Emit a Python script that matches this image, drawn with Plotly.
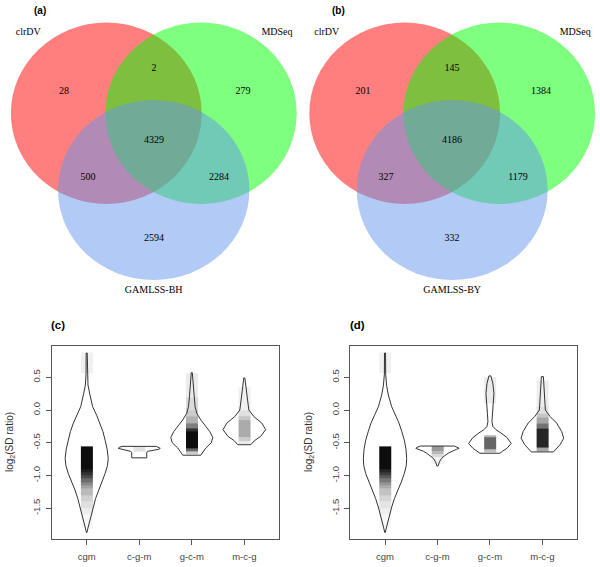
import plotly.graph_objects as go

# ---------------- DATA ----------------
venn_sets = ["clrDV", "MDSeq"]
venn_a_counts = [28, 2, 279, 4329, 500, 2284, 2594]   # clr only, clr&MD, MD only, all, clr&GAM, MD&GAM, GAM only
venn_a_third = "GAMLSS-BH"
venn_b_counts = [201, 145, 1384, 4186, 327, 1179, 332]
venn_b_third = "GAMLSS-BY"

categories = ["cgm", "c-g-m", "g-c-m", "m-c-g"]
y_ticks = [-1.5, -1.0, -0.5, 0.0, 0.5]
y_ticktext = ["-1.5", "-1.0", "-0.5", "0.0", "0.5"]

# violin outlines (y value, half width in x-axis units) for panel (c)
c_cgm_y = [0.87, 0.55, 0.38, 0.23, 0.05, -0.08, -0.20, -0.33, -0.46, -0.60, -0.74, -0.85, -0.97, -1.10, -1.22, -1.35, -1.48, -1.60, -1.70, -1.80, -1.87]
c_cgm_w = [0.01, 0.012, 0.025, 0.063, 0.114, 0.19, 0.253, 0.31, 0.35, 0.39, 0.41, 0.395, 0.35, 0.29, 0.223, 0.17, 0.128, 0.085, 0.055, 0.025, 0.005]
c_cgm2_y = [-0.555, -0.57, -0.585, -0.60, -0.615, -0.63, -0.645, -0.67, -0.70, -0.73]
c_cgm2_w = [0.324, 0.381, 0.40, 0.371, 0.267, 0.171, 0.143, 0.143, 0.143, 0.143]
c_gcm_y = [0.57, 0.40, 0.20, 0.05, -0.05, -0.15, -0.25, -0.33, -0.42, -0.50, -0.58, -0.64, -0.69]
c_gcm_w = [0.01, 0.029, 0.044, 0.063, 0.095, 0.171, 0.267, 0.343, 0.40, 0.371, 0.267, 0.21, 0.171]
c_mcg_y = [0.49, 0.30, 0.15, 0.0, -0.10, -0.20, -0.30, -0.40, -0.47, -0.53]
c_mcg_w = [0.01, 0.038, 0.057, 0.086, 0.181, 0.333, 0.406, 0.314, 0.19, 0.124]

# violin outlines for panel (d)
d_cgm_y = [0.87, 0.55, 0.38, 0.23, 0.05, -0.08, -0.20, -0.33, -0.46, -0.60, -0.74, -0.85, -0.97, -1.10, -1.22, -1.35, -1.48, -1.60, -1.70, -1.80, -1.87]
d_cgm_w = [0.01, 0.012, 0.03, 0.063, 0.127, 0.20, 0.267, 0.32, 0.368, 0.40, 0.413, 0.405, 0.368, 0.31, 0.242, 0.18, 0.128, 0.085, 0.055, 0.025, 0.005]
d_cgm2_y = [-0.55, -0.57, -0.585, -0.60, -0.63, -0.66, -0.70, -0.74, -0.79, -0.855]
d_cgm2_w = [0.324, 0.39, 0.413, 0.362, 0.267, 0.204, 0.133, 0.076, 0.038, 0.01]
d_gcm_y = [0.52, 0.40, 0.25, 0.10, -0.05, -0.18, -0.25, -0.30, -0.35, -0.42, -0.51, -0.585, -0.63, -0.66]
d_gcm_w = [0.019, 0.057, 0.076, 0.067, 0.048, 0.038, 0.057, 0.114, 0.21, 0.324, 0.406, 0.324, 0.238, 0.19]
d_mcg_y = [0.51, 0.30, 0.15, 0.0, -0.10, -0.20, -0.33, -0.43, -0.53, -0.61, -0.64]
d_mcg_w = [0.019, 0.038, 0.048, 0.057, 0.147, 0.272, 0.368, 0.406, 0.337, 0.242, 0.21]

# jittered-point cloud density (bin edges along y, darkness 0..1)
c_cgm_edges = [0.88, 0.56, -0.55, -0.9, -0.95, -1.0, -1.05, -1.1, -1.15, -1.2, -1.3, -1.4, -1.5, -1.6, -1.8]
c_cgm_dens = [0.06, 0.0, 0.95, 0.88, 0.8, 0.7, 0.58, 0.47, 0.37, 0.27, 0.18, 0.12, 0.07, 0.035]
c_cgm2_edges = [-0.56, -0.63]
c_cgm2_dens = [0.12]
c_gcm_edges = [0.56, 0.2, 0.0, -0.1, -0.2, -0.28, -0.33, -0.58, -0.63, -0.67]
c_gcm_dens = [0.08, 0.14, 0.2, 0.3, 0.5, 0.8, 0.95, 0.6, 0.2]
c_mcg_edges = [0.35, 0.0, -0.1, -0.15, -0.42, -0.47, -0.52]
c_mcg_dens = [0.06, 0.12, 0.22, 0.33, 0.2, 0.08]

d_cgm_edges = [0.88, 0.56, -0.55, -0.9, -0.95, -1.0, -1.05, -1.1, -1.15, -1.2, -1.3, -1.4, -1.5, -1.6, -1.8]
d_cgm_dens = [0.06, 0.0, 0.95, 0.86, 0.76, 0.65, 0.53, 0.42, 0.33, 0.24, 0.16, 0.1, 0.06, 0.03]
d_cgm2_edges = [-0.55, -0.62, -0.67, -0.72, -0.82]
d_cgm2_dens = [0.4, 0.28, 0.15, 0.05]
d_gcm_edges = [0.5, 0.1, -0.38, -0.42, -0.6, -0.64]
d_gcm_dens = [0.08, 0.0, 0.3, 0.6, 0.25]
d_mcg_edges = [0.45, 0.05, -0.05, -0.12, -0.2, -0.28, -0.58, -0.63]
d_mcg_dens = [0.07, 0.12, 0.22, 0.35, 0.55, 0.85, 0.35]

# ---------------- LAYOUT CONSTANTS ----------------
W, H = 600, 567
TOP_H = 300
# Venn circle geometry (pixel space of top half): (cx, cy, rx, ry)
venn_circles_a = [(106.3, 113.3, 95.4, 90.7), (201.0, 113.3, 95.7, 90.7), (153.7, 190.0, 95.7, 90.0)]
venn_circles_b = [(404.7, 113.3, 95.4, 90.7), (499.2, 113.3, 95.8, 90.7), (452.2, 190.0, 95.5, 90.0)]
venn_colors = ["rgb(255,0,0)", "rgb(0,255,0)", "rgb(100,149,237)"]
# region label positions (pixel space)
region_pos_a = [(64, 91), (154, 68), (243, 91), (154, 140), (88, 177), (219, 177), (154, 238)]
region_pos_b = [(363, 91), (452, 68), (541, 91), (452, 140), (386, 177), (518, 177), (452, 238)]

fig = go.Figure()

serif = "Liberation Serif, Times New Roman, serif"
sans = "Liberation Sans, Arial, sans-serif"

shapes = []
for circles in (venn_circles_a, venn_circles_b):
    for (cx, cy, rx, ry), col in zip(circles, venn_colors):
        shapes.append(dict(type="circle", xref="x", yref="y", x0=cx - rx, x1=cx + rx,
                           y0=cy - ry, y1=cy + ry, fillcolor=col, opacity=0.5,
                           line=dict(width=0), layer="below"))

# Venn texts
for counts, pos, third, circles in ((venn_a_counts, region_pos_a, venn_a_third, venn_circles_a),
                                    (venn_b_counts, region_pos_b, venn_b_third, venn_circles_b)):
    fig.add_trace(go.Scatter(x=[p[0] for p in pos], y=[p[1] for p in pos], mode="text",
                             text=[str(c) for c in counts], textfont=dict(family=serif, size=10, color="black"),
                             xaxis="x", yaxis="y", showlegend=False, hoverinfo="skip"))
    lx = [circles[0][0] - 78, circles[1][0] + 76, circles[2][0]]
    ly = [32, 32, 290.7]
    fig.add_trace(go.Scatter(x=lx, y=ly, mode="text",
                             text=venn_sets + [third], textfont=dict(family=serif, size=10, color="black"),
                             xaxis="x", yaxis="y", showlegend=False, hoverinfo="skip"))

# Violins
panels = [
    ("x2", "y2", [(c_cgm_y, c_cgm_w, c_cgm_edges, c_cgm_dens), (c_cgm2_y, c_cgm2_w, c_cgm2_edges, c_cgm2_dens),
                  (c_gcm_y, c_gcm_w, c_gcm_edges, c_gcm_dens), (c_mcg_y, c_mcg_w, c_mcg_edges, c_mcg_dens)]),
    ("x3", "y3", [(d_cgm_y, d_cgm_w, d_cgm_edges, d_cgm_dens), (d_cgm2_y, d_cgm2_w, d_cgm2_edges, d_cgm2_dens),
                  (d_gcm_y, d_gcm_w, d_gcm_edges, d_gcm_dens), (d_mcg_y, d_mcg_w, d_mcg_edges, d_mcg_dens)]),
]
cloud_hw = 0.11
for xa, ya, vs in panels:
    for i, (vy, vw, ed, dn) in enumerate(vs):
        c = i + 1
        fig.add_trace(go.Heatmap(x=[c - cloud_hw, c + cloud_hw], y=ed, z=[[v] for v in dn],
                                 zmin=0, zmax=1, showscale=False,
                                 colorscale=[[0, "rgba(0,0,0,0)"], [1, "rgba(0,0,0,1)"]],
                                 xaxis=xa, yaxis=ya, hoverinfo="skip"))
        px = [c + w for w in vw] + [c - w for w in vw[::-1]] + [c + vw[0]]
        py = list(vy) + list(vy[::-1]) + [vy[0]]
        fig.add_trace(go.Scatter(x=px, y=py, mode="lines",
                                 line=dict(color="#333333", width=1),
                                 xaxis=xa, yaxis=ya, showlegend=False, hoverinfo="skip"))

def fy(p):
    return 1 - p / H

axis_common = dict(showgrid=False, zeroline=False, showline=True, mirror=True,
                   linecolor="#555555", linewidth=1, ticks="outside", ticklen=5,
                   tickcolor="#555555", tickfont=dict(family=sans, size=9.5, color="#444444"))

ydom = [fy(539), fy(346)]
fig.update_layout(
    width=W, height=H, margin=dict(l=0, r=0, t=0, b=0),
    plot_bgcolor="white", paper_bgcolor="white", showlegend=False,
    shapes=shapes,
    xaxis=dict(domain=[0, 1], range=[0, W], visible=False, fixedrange=True),
    yaxis=dict(domain=[fy(TOP_H), 1], range=[TOP_H, 0], visible=False, fixedrange=True),
    xaxis2=dict(domain=[52 / W, 279 / W], range=[0.34, 4.66], tickvals=[1, 2, 3, 4],
                ticktext=categories, anchor="y2", ticklabelstandoff=4, **axis_common),
    yaxis2=dict(domain=ydom, range=[-1.969, 0.977], tickvals=y_ticks, ticktext=y_ticktext,
                tickangle=-90, anchor="x2", ticklabelstandoff=2, **axis_common),
    xaxis3=dict(domain=[350.4 / W, 577 / W], range=[0.34, 4.66], tickvals=[1, 2, 3, 4],
                ticktext=categories, anchor="y3", ticklabelstandoff=4, **axis_common),
    yaxis3=dict(domain=ydom, range=[-1.969, 0.977], tickvals=y_ticks, ticktext=y_ticktext,
                tickangle=-90, anchor="x3", ticklabelstandoff=2, **axis_common),
)

annots = []
for lab, x, y, s in (("(a)", 40, 10, 10), ("(b)", 339, 10, 10), ("(c)", 58, 325, 11.5), ("(d)", 357, 325, 11.5)):
    annots.append(dict(text="<b>%s</b>" % lab, x=x / W, y=fy(y), xref="paper", yref="paper",
                       showarrow=False, font=dict(family=sans, size=s, color="black"),
                       xanchor="center", yanchor="middle"))
for x in (10, 309):
    annots.append(dict(text="log<sub>2</sub>(SD ratio)", x=x / W, y=fy(442), xref="paper", yref="paper",
                       showarrow=False, textangle=-90, font=dict(family=sans, size=10, color="#333333"),
                       xanchor="center", yanchor="middle"))
fig.update_layout(annotations=annots)

fig.write_html("out.html", config={"displayModeBar": False},
               post_script="document.body.style.margin='0';document.body.style.overflow='hidden';")
